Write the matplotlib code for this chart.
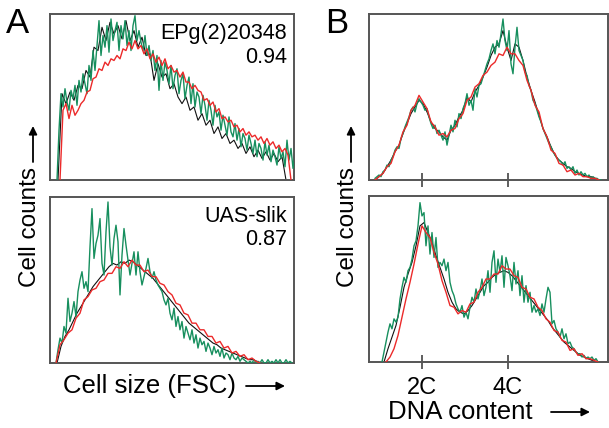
import matplotlib
matplotlib.use("Agg")
import matplotlib.pyplot as plt
import numpy as np

plt.rcParams["font.family"] = ["Liberation Sans", "DejaVu Sans"]

# ---- data: histogram counts (0-100 scale), channel start / bin step ----
# Panel A, top (EPg(2)20348)
a_top_green_start, a_top_green_step = 7, 2
a_top_green = [0, 30, 52, 44, 55, 47, 42, 54, 49, 57, 45, 60, 53, 64, 58, 52, 69, 60, 78, 66,
               81, 96, 75, 87, 80, 93, 77, 97, 84, 90, 95, 78, 93, 85, 96, 81, 90, 78, 93, 99,
               84, 90, 83, 78, 87, 75, 81, 72, 78, 66, 75, 54,
               72, 60, 71, 66, 58, 69, 55, 63, 67, 52, 60, 64, 49, 57, 62, 46, 58, 44, 53, 50,
               40, 51, 45, 36, 48, 42, 33, 45, 38, 41, 30, 39, 33, 27, 38, 29, 26, 34, 24, 31,
               20, 28, 25, 18, 27, 22, 16, 24, 14, 22, 19, 12, 23, 15, 21, 11, 18, 14, 9, 20,
               13, 17, 8, 24, 12, 19, 7, 15, 0]
a_top_red_start, a_top_red_step = 10, 3
a_top_red = [0, 42, 46, 37, 45, 39, 42, 46, 48, 53, 54, 61, 62, 67, 66, 71, 69, 73, 72, 75,
             73, 79, 78, 83, 79, 84, 79, 81, 76, 79, 73, 76, 71, 74, 69, 73, 67, 69, 65, 66,
             62, 65, 59, 59, 55, 57, 54, 53, 48, 49, 45, 47, 41, 43, 37, 38, 35, 36, 32, 33,
             29, 31, 27, 29, 26, 27, 24, 26, 22, 25, 21, 23, 19, 21, 17, 19, 15, 0]
a_top_black_start, a_top_black_step = 8, 4
a_top_black = [0, 52, 46, 53, 48, 57, 55, 66, 62, 80, 78, 92, 84, 95, 88, 93, 85, 96, 84, 90,
               80, 86, 75, 76, 60, 70, 62, 64, 55, 58, 50, 46, 50, 42, 44, 36, 40, 33, 36, 28,
               32, 25, 28, 22, 24, 19, 22, 16, 20, 14, 18, 13, 17, 12, 16, 11, 14, 0]

# Panel A, bottom (UAS-slik)
a_bot_green_start, a_bot_green_step = 6, 2
a_bot_green = [0, 8, 15, 12, 22, 18, 39, 25, 30, 37, 28, 43, 50, 55, 45, 49, 43, 70, 93, 63,
               72, 77, 87, 60, 53, 79, 97, 70, 59, 75, 83, 73, 41, 65, 81, 71, 62, 53, 60, 67,
               53, 67, 55, 47, 52, 57, 63, 55, 51, 55, 50, 47, 45, 43, 38, 35, 39, 30,
               26, 33, 22, 28, 20, 25, 15, 22, 18, 14, 20, 12, 17, 9, 15, 11, 13, 7, 12, 9,
               5, 10, 6, 8, 4, 9, 3, 6, 5, 2, 6, 3, 2, 4, 1, 3, 2, 1, 0, 1, 0, 2, 0, 1,
               0, 2, 0, 0, 2, 0, 1, 0, 2, 0, 2, 0, 0, 2, 0, 1, 0]
a_bot_red_start, a_bot_red_step = 6, 4
a_bot_red = [0, 11, 14, 18, 20, 27, 30, 38, 40, 44, 45, 49, 50, 54, 54, 58, 57, 61, 58, 62,
             59, 59, 55, 56, 52, 52, 48, 47, 43, 41, 36, 35, 30, 29, 24, 24, 20, 20, 16, 16,
             12, 13, 9, 10, 6, 7, 4, 5, 2, 3, 1, 0]
a_bot_black_start, a_bot_black_step = 7, 4
a_bot_black = [0, 10, 16, 20, 25, 30, 34, 38, 42, 46, 49, 52, 55, 58, 60, 59, 61, 60, 62, 61,
               59, 57, 55, 53, 51, 48, 45, 42, 39, 36, 33, 30, 27, 24, 22, 20, 18, 16, 14, 12,
               11, 9, 8, 7, 6, 5, 4, 3, 2, 2, 1, 0]

# Panel B, top
b_top_green_start, b_top_green_step = 6, 2
b_top_green = [1, 2, 3, 2, 5, 6, 9, 8, 12, 14, 18, 20, 19, 25, 28, 32, 35, 38, 42, 44,
               41, 46, 49, 47, 45, 42, 43, 38, 34, 31, 33, 28, 30, 27, 24, 29, 21, 27, 33, 29,
               36, 32, 40, 37, 43, 46, 52, 45, 48, 42, 55, 50, 57, 58, 62, 66, 70, 73, 78, 82,
               76, 84, 80, 88, 97, 84, 78, 90, 70, 64, 80, 92, 78, 75, 72, 65, 63, 57, 54, 48,
               46, 42, 38, 35, 31, 28, 25, 22, 20, 17, 15, 13, 12, 11, 9, 11, 7, 8, 6, 8,
               4, 6, 3, 5, 3, 4, 2, 3, 1, 2, 1, 1, 0, 0]
b_top_red_start, b_top_red_step = 6, 4
b_top_red = [0, 2, 4, 8, 10, 17, 21, 29, 33, 42, 45, 51, 47, 43, 35, 32, 27, 28, 26, 30,
             31, 37, 40, 48, 50, 56, 58, 63, 65, 69, 71, 76, 75, 80, 76, 76, 72, 69, 60, 54,
             45, 41, 31, 26, 18, 16, 10, 9, 5, 6, 3, 4, 2, 2, 1, 1, 0]
b_top_black_start, b_top_black_step = 6, 4
b_top_black = [0, 2, 4, 8, 12, 17, 21, 28, 34, 40, 44, 48, 46, 41, 35, 31, 29, 26, 24, 30,
               33, 38, 42, 50, 47, 53, 57, 62, 68, 75, 80, 82, 90, 80, 72, 82, 80, 72, 62, 54,
               47, 39, 31, 26, 20, 15, 12, 10, 8, 7, 5, 4, 3, 2, 2, 1, 0]

# Panel B, bottom
b_bot_green_start, b_bot_green_step = 13, 2
b_bot_green = [0, 6, 12, 18, 23, 20, 26, 24, 27, 38, 45, 51, 48, 55, 57, 62, 70, 73, 82, 96,
               88, 90, 70, 82, 65, 78, 63, 75, 57, 60, 58, 62, 55, 60, 48, 43, 40, 35, 32, 30,
               34, 27, 30, 26, 33, 39, 36, 44, 38, 43, 50, 40, 45, 55, 42, 60, 67, 48, 62, 54,
               64, 45, 63, 58, 52, 43, 60, 47, 55, 40, 52, 36, 46, 36, 42, 30, 34, 30, 32, 28,
               35, 30, 38, 45, 42, 23, 25, 20, 18, 15, 20, 14, 17, 11, 12, 9, 8, 6, 5, 5,
               3, 4, 2, 3, 2, 3, 1, 2, 0]
b_bot_red_start, b_bot_red_step = 17, 4
b_bot_red = [0, 3, 8, 16, 27, 38, 48, 59, 71, 82, 78, 75, 66, 59, 49, 42, 34, 33, 29, 31,
             30, 35, 36, 42, 45, 50, 50, 53, 53, 58, 56, 56, 52, 51, 45, 44, 39, 38, 33, 31,
             26, 24, 19, 18, 13, 12, 7, 8, 4, 5, 2, 2, 1, 0]
b_bot_black_start, b_bot_black_step = 15, 4
b_bot_black = [0, 8, 15, 22, 33, 45, 53, 60, 70, 82, 84, 78, 72, 64, 57, 50, 42, 36, 32, 30,
               29, 31, 34, 38, 42, 46, 48, 51, 53, 54, 55, 54, 52, 49, 46, 43, 40, 37, 34, 31,
               28, 25, 21, 18, 15, 12, 10, 8, 6, 4, 3, 2, 1, 0]

b_tick_pos = [53, 139]
b_tick_labels = ["2C", "4C"]

GREEN = "#178f5e"
RED = "#ec2a2a"
SPINE = "#555555"


def bins(start, step, vals):
    return start + step * np.arange(len(vals))


def draw(ax, green, red, black, xmax):
    ax.plot(bins(*black[:2], black[2]), black[2], color="#111111", lw=0.8, zorder=2)
    ax.plot(bins(*green[:2], green[2]), green[2], color=GREEN, lw=1.0, zorder=3)
    ax.plot(bins(*red[:2], red[2]), red[2], color=RED, lw=1.0, zorder=4)
    ax.set_xlim(0, xmax)
    ax.set_ylim(0, 100)
    for sp in ax.spines.values():
        sp.set_color(SPINE)
        sp.set_linewidth(1.4)


fig = plt.figure(figsize=(6.09, 4.28), dpi=100)
W, H = 609, 428


def box(x0, y0, x1, y1):
    return [x0 / W, 1 - y1 / H, (x1 - x0) / W, (y1 - y0) / H]


ax_at = fig.add_axes(box(50, 14, 294, 180))
ax_ab = fig.add_axes(box(50, 197, 294, 363))
ax_bt = fig.add_axes(box(369, 14, 607.5, 180))
ax_bb = fig.add_axes(box(369, 196, 607.5, 362))

draw(ax_at, (a_top_green_start, a_top_green_step, a_top_green),
     (a_top_red_start, a_top_red_step, a_top_red),
     (a_top_black_start, a_top_black_step, a_top_black), 244)
draw(ax_ab, (a_bot_green_start, a_bot_green_step, a_bot_green),
     (a_bot_red_start, a_bot_red_step, a_bot_red),
     (a_bot_black_start, a_bot_black_step, a_bot_black), 244)
draw(ax_bt, (b_top_green_start, b_top_green_step, b_top_green),
     (b_top_red_start, b_top_red_step, b_top_red),
     (b_top_black_start, b_top_black_step, b_top_black), 238.5)
draw(ax_bb, (b_bot_green_start, b_bot_green_step, b_bot_green),
     (b_bot_red_start, b_bot_red_step, b_bot_red),
     (b_bot_black_start, b_bot_black_step, b_bot_black), 238.5)

for ax in (ax_at, ax_ab):
    ax.set_xticks([])
    ax.set_yticks([])
for ax in (ax_bt, ax_bb):
    ax.set_yticks([])
    ax.set_xticks(b_tick_pos)
    ax.tick_params(axis="x", direction="inout", length=10, width=1.1, color="#333333")
ax_bt.set_xticklabels([])
ax_bb.set_xticklabels(b_tick_labels, fontsize=17)
ax_bb.tick_params(axis="x", pad=6)

# in-panel labels
ax_at.text(0.971, 0.85, "EPg(2)20348", transform=ax_at.transAxes, ha="right", va="baseline", fontsize=15.5)
ax_at.text(0.971, 0.705, "0.94", transform=ax_at.transAxes, ha="right", va="baseline", fontsize=15.5)
ax_ab.text(0.971, 0.85, "UAS-slik", transform=ax_ab.transAxes, ha="right", va="baseline", fontsize=15.5)
ax_ab.text(0.971, 0.71, "0.87", transform=ax_ab.transAxes, ha="right", va="baseline", fontsize=15.5)

# panel letters
fig.text(6 / W, 1 - 33 / H, "A", fontsize=25, ha="left", va="baseline")
fig.text(325 / W, 1 - 33 / H, "B", fontsize=25, ha="left", va="baseline")

# axis titles with arrows
arrow = dict(arrowstyle="-|>", lw=1.3, color="black", mutation_scale=12, shrinkA=0, shrinkB=0)
for xc in (30, 348):
    fig.text(xc / W, 1 - 227 / H, "Cell counts", rotation=90, ha="center", va="center", fontsize=17.5)
    fig.add_artist(matplotlib.patches.FancyArrowPatch(
        ((xc + 3) / W, 1 - 162 / H), ((xc + 3) / W, 1 - 126 / H),
        transform=fig.transFigure, **arrow))

fig.text(63 / W, 1 - 393 / H, "Cell size (FSC)", ha="left", va="baseline", fontsize=18.5)
fig.add_artist(matplotlib.patches.FancyArrowPatch(
    (246 / W, 1 - 386 / H), (285 / W, 1 - 386 / H), transform=fig.transFigure, **arrow))

fig.text(388 / W, 1 - 419 / H, "DNA content", ha="left", va="baseline", fontsize=18.5)
fig.add_artist(matplotlib.patches.FancyArrowPatch(
    (551 / W, 1 - 412 / H), (590 / W, 1 - 412 / H), transform=fig.transFigure, **arrow))

fig.savefig("out.png", dpi=100)
